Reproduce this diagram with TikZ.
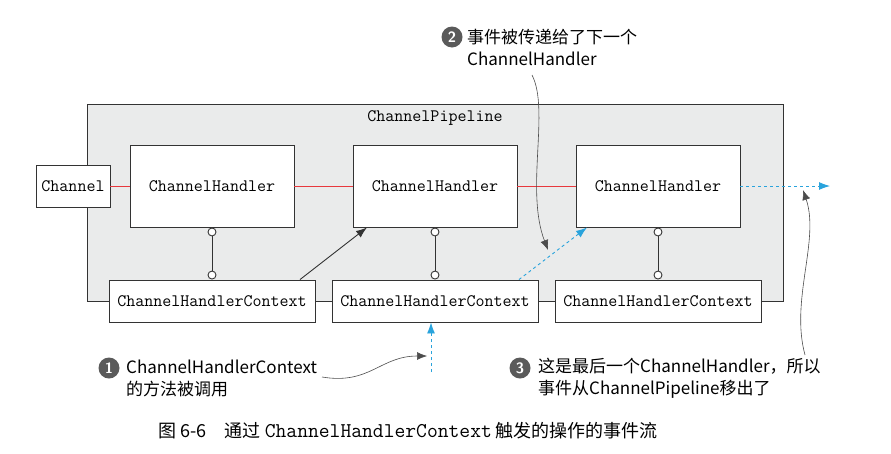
\documentclass[tikz,border=0pt]{standalone}
\usepackage{fontspec}
\setmainfont{Liberation Sans}
\newfontfamily\cjk{Noto Sans CJK SC}
\usetikzlibrary{arrows.meta,positioning}
\definecolor{pipegray}{HTML}{EAEBEB}
\definecolor{flowblue}{HTML}{29A3DC}
\definecolor{linkred}{HTML}{E8383D}
\definecolor{numgray}{HTML}{5A5A5A}
\tikzset{
  box/.style={draw=black!80,fill=white,line width=0.9pt,font=\ttfamily\fontsize{17.5}{19}\selectfont},
  hbox/.style={box,minimum width=164pt,minimum height=82pt},
  cbox/.style={box,minimum width=206pt,minimum height=42pt,inner sep=1pt},
  redlink/.style={linkred,line width=0.8pt},
  bond/.style={black!80,line width=1pt},
  ring/.style={circle,draw=black!80,fill=white,line width=0.9pt,inner sep=0pt,minimum size=8pt},
  flow/.style={flowblue,dashed,line width=0.9pt,-{Latex[length=11pt,width=8pt]}},
  callout/.style={black!70,line width=0.6pt,-{Latex[length=10pt,width=8pt]}},
  num/.style={circle,fill=numgray,text=white,inner sep=0pt,minimum size=21pt,font=\sffamily\bfseries\fontsize{15}{15}\selectfont},
  note/.style={align=left,font=\cjk\fontsize{17}{22}\selectfont,inner sep=0pt}
}
\begin{document}
\begin{tikzpicture}[x=1pt,y=-1pt]
  \useasboundingbox (0,0) rectangle (891,453);
  % pipeline frame
  \node[draw=black!80,fill=pipegray,line width=0.9pt,minimum width=696pt,minimum height=197pt,anchor=north west] (pipe) at (87,104) {};
  \node[font=\ttfamily\fontsize{17.5}{19}\selectfont] (pipelabel) at (435,118) {ChannelPipeline};
  % channel and handlers
  \node[box,minimum width=74pt,minimum height=42pt,inner sep=1pt] (chan) at (73,186) {Channel};
  \node[hbox] (h1) at (212,186) {ChannelHandler};
  \node[hbox] (h2) at (435,186) {ChannelHandler};
  \node[hbox] (h3) at (658,186) {ChannelHandler};
  % contexts
  \node[cbox] (c1) at (212,301) {ChannelHandlerContext};
  \node[cbox] (c2) at (435,301) {ChannelHandlerContext};
  \node[cbox] (c3) at (658,301) {ChannelHandlerContext};
  \draw[redlink] (chan) -- (h1);
  \draw[redlink] (h1) -- (h2);
  \draw[redlink] (h2) -- (h3);
  \draw[bond] (c1) -- (c2);
  \draw[bond] (c2) -- (c3);
  \foreach \i in {1,2,3}{
    \node[ring] (t\i) at ([yshift=-4.5pt]h\i.south) {};
    \node[ring] (b\i) at ([yshift=4.5pt]c\i.north) {};
    \draw[bond] (t\i) -- (b\i);
  }
  % event flow
  \draw[black!80,line width=0.9pt,-{Latex[length=11pt,width=8pt]}] ([xshift=88pt]c1.north) -- ([xshift=-68pt]h2.south);
  \draw[flow] ([xshift=84pt]c2.north) -- ([xshift=-71pt]h3.south);
  \coordinate (out) at (830,186);
  \draw[flow] (h3) -- (out);
  \coordinate (in) at (431,372);
  \draw[flow] (in) -- ([xshift=-4pt]c2.south);
  % notes
  \node[num] (n1) at (109,368) {1};
  \node[note,anchor=west] (note1) at (126,378) {ChannelHandlerContext\\的方法被调用};
  \node[num] (n2) at (452,37) {2};
  \node[note,anchor=west] (note2) at (467,47) {事件被传递给了下一个\\ChannelHandler};
  \node[num] (n3) at (520,368) {3};
  \node[note,anchor=west] (note3) at (538,378) {这是最后一个ChannelHandler，所以\\事件从ChannelPipeline移出了};
  \coordinate (a1) at (427,356);
  \coordinate (a2) at (548,250);
  \coordinate (a3) at (803,190);
  \draw[callout] (322,377) .. controls (370,385) and (380,356) .. (a1);
  \draw[callout] (532,75) .. controls (550,110) and (525,190) .. (a2);
  \draw[callout] (805,355) .. controls (790,300) and (820,240) .. (a3);
  % caption
  \node[font=\cjk\fontsize{18}{20}\selectfont,anchor=west] (caption) at (155,431) {图 6-6\quad 通过 {\ttfamily\fontsize{21}{20}\selectfont ChannelHandlerContext} 触发的操作的事件流};
\end{tikzpicture}
\end{document}
